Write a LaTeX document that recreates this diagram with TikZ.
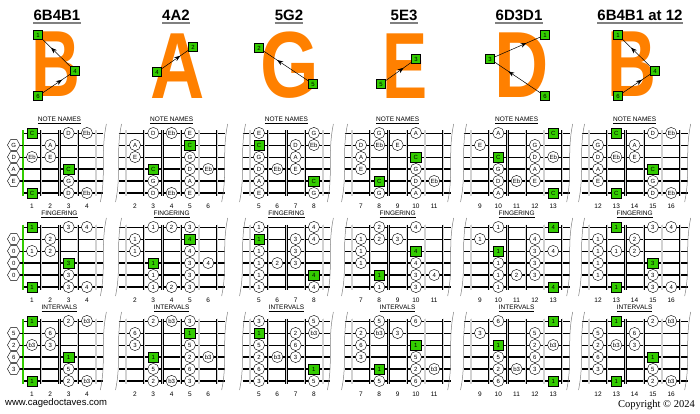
\documentclass[tikz,border=0pt]{standalone}
\usepackage{fontspec}
\setmainfont{Liberation Serif}
\setsansfont{Liberation Sans}
\usetikzlibrary{shapes.geometric,decorations.markings,arrows.meta}

\definecolor{rootgreen}{RGB}{51,204,0}
\definecolor{shapeorange}{RGB}{255,128,0}

\tikzset{
  ns0/.style={circle,draw,fill=white,inner sep=0pt,minimum size=11.2pt,font=\sffamily\fontsize{6}{6}\selectfont},
  ns1/.style={rectangle,draw,fill=rootgreen,inner sep=0pt,minimum size=10.5pt,font=\sffamily\fontsize{6}{6}\selectfont},
  ns2/.style={regular polygon,regular polygon sides=6,draw,fill=white,inner sep=0pt,minimum size=12.5pt,font=\sffamily\fontsize{6}{6}\selectfont},
  string1/.style={line width=0.6pt},
  string2/.style={line width=0.6pt},
  string3/.style={line width=0.7pt},
  string4/.style={line width=1.4pt},
  string5/.style={line width=1.4pt},
  string6/.style={line width=2.4pt},
  fretline/.style={line width=0.45pt,double=gray!35,double distance=1.3pt},
  nutline/.style={rootgreen,line width=2.2pt},
  breakline/.style={gray,line width=0.5pt},
  boardtitle/.style={font=\sffamily\fontsize{6.5}{6.5}\selectfont,inner sep=0pt},
  fretnum/.style={font=\sffamily\fontsize{6.5}{6.5}\selectfont,inner sep=0pt},
  coltitle/.style={font=\sffamily\bfseries\fontsize{15}{15}\selectfont,inner sep=0pt,
    append after command={([yshift=-2.5pt]\tikzlastnode.south west) edge[gray,line width=1.8pt] ([yshift=-2.5pt]\tikzlastnode.south east)}},
  bigletter/.style={font=\sffamily\bfseries\fontsize{94}{94}\selectfont,text=shapeorange,inner sep=0pt},
  strnum/.style={rectangle,draw,fill=rootgreen,inner sep=0pt,minimum size=9pt,font=\sffamily\fontsize{6}{6}\selectfont},
  midarrow/.style={line width=0.5pt,postaction={decorate},
    decoration={markings,mark=at position 0.7 with {\arrow{Stealth[length=6pt,width=4.5pt]}}}}
}

% #1 name, #2 x of fret 0, #3 first fret, #4 last fret, #5 notes string/fret/name/finger/interval/kind
\newcommand{\fretboard}[5]{%
  \foreach \yb/\ttl [count=\bd from 0] in {133/NOTE NAMES,227/FINGERING,321/INTERVALS}{
    \node[boardtitle] (#1t\bd) at ({#2+18.3*(#3+#4)/2},{\yb-13}) {\underline{\ttl}};
    \ifnum#3=1
      \foreach \r in {1,...,6}
        \draw[string\r] ({#2+9.15},{\yb+12*(\r-1)}) -- ({#2+18.3*(#4+0.9)},{\yb+12*(\r-1)});
      \draw[nutline] ({#2+9.15},{\yb-2.5}) -- ({#2+9.15},{\yb+62.5});
    \else
      \foreach \r in {1,...,6}
        \draw[string\r] ({#2+18.3*(#3-0.9)},{\yb+12*(\r-1)}) -- ({#2+18.3*(#4+0.9)},{\yb+12*(\r-1)});
      \draw[fretline] ({#2+18.3*(#3-0.5)},{\yb-2.5}) -- ({#2+18.3*(#3-0.5)},{\yb+62.5});
      \draw[breakline] ({#2+18.3*(#3-0.9)+3},{\yb-9}) .. controls ({#2+18.3*(#3-0.9)-3},{\yb+20}) and ({#2+18.3*(#3-0.9)+3},{\yb+40}) .. ({#2+18.3*(#3-0.9)-3},{\yb+69});
    \fi
    \foreach \f in {#3,...,#4}{
      \draw[fretline] ({#2+18.3*(\f+0.5)},{\yb-2.5}) -- ({#2+18.3*(\f+0.5)},{\yb+62.5});
      \node[fretnum] (#1n\bd-\f) at ({#2+18.3*\f},{\yb+73}) {\f};
    }
    \draw[breakline] ({#2+18.3*(#4+0.9)+3},{\yb-9}) .. controls ({#2+18.3*(#4+0.9)-3},{\yb+20}) and ({#2+18.3*(#4+0.9)+3},{\yb+40}) .. ({#2+18.3*(#4+0.9)-3},{\yb+69});
    \foreach \r/\f/\n/\g/\iv/\k in {#5}{
      \ifnum\k=2 \draw[string\r] ({#2},{\yb+12*(\r-1)}) -- ({#2+9.15},{\yb+12*(\r-1)}); \fi
      \node[ns\k] (#1\bd-\r-\f) at ({#2+18.3*\f},{\yb+12*(\r-1)}) {\ifcase\bd\relax\n\or\g\or\iv\fi};
    }
  }%
}

\begin{document}
\begin{tikzpicture}[x=1pt,y=-1pt]
  \useasboundingbox[fill=white] (0,0) rectangle (700,414);

  % column titles
  \foreach \x/\ttl [count=\c] in {57/6B4B1,176/4A2,289/5G2,404/5E3,519/6D3D1,640/6B4B1 at 12}
    \node[coltitle] (title\c) at (\x,15) {\ttl};

  % shape letters with root strings
  \node[bigletter] (letB) at (56,64) {\scalebox{0.72}[1]{B}};
  \node[bigletter] (letA) at (178,66) {\scalebox{0.8}[1]{A}};
  \node[bigletter] (letG) at (290,65) {\scalebox{0.8}[1]{G}};
  \node[bigletter] (letE) at (405,66) {\scalebox{0.72}[1]{E}};
  \node[bigletter] (letD) at (522,65) {\scalebox{0.8}[1]{D}};
  \node[bigletter] (letBB) at (632,64) {\scalebox{0.72}[1]{B}};

  \node[strnum] (a1) at (38,35) {1};
  \node[strnum] (a4) at (75,71) {4};
  \node[strnum] (a6) at (38,96) {6};
  \draw[midarrow] (a6) -- (a4);
  \draw[midarrow] (a4) -- (a1);

  \node[strnum] (b4) at (157,72) {4};
  \node[strnum] (b2) at (193,47) {2};
  \draw[midarrow] (b4) -- (b2);

  \node[strnum] (c5) at (313,84) {5};
  \node[strnum] (c2) at (259,48) {2};
  \draw[midarrow] (c5) -- (c2);

  \node[strnum] (d5) at (381,84) {5};
  \node[strnum] (d3) at (416,59) {3};
  \draw[midarrow] (d5) -- (d3);

  \node[strnum] (e6) at (545,96) {6};
  \node[strnum] (e3) at (490,59) {3};
  \node[strnum] (e1) at (545,35) {1};
  \draw[midarrow] (e6) -- (e3);
  \draw[midarrow] (e3) -- (e1);

  \node[strnum] (f1) at (618,35) {1};
  \node[strnum] (f4) at (655,71) {4};
  \node[strnum] (f6) at (618,96) {6};
  \draw[midarrow] (f6) -- (f4);
  \draw[midarrow] (f4) -- (f1);

  % fretboards
  \fretboard{a}{13.7}{1}{4}{1/1/C/1/1/1,1/3/D/3/2/0,1/4/Eb/4/b3/0,
    2/0/G/0/5/2,2/2/A/2/6/0,
    3/0/D/0/2/2,3/1/Eb/1/b3/0,3/2/E/2/3/0,
    4/0/A/0/6/2,4/3/C/3/1/1,
    5/0/E/0/3/2,5/3/G/3/5/0,
    6/1/C/1/1/1,6/3/D/3/2/0,6/4/Eb/4/b3/0}
  \fretboard{b}{98.4}{2}{6}{1/3/D/1/2/0,1/4/Eb/2/b3/0,1/5/E/3/3/0,
    2/2/A/1/6/0,2/5/C/4/1/1,
    3/2/E/1/3/0,3/5/G/4/5/0,
    4/3/C/1/1/1,4/5/D/3/2/0,4/6/Eb/4/b3/0,
    5/3/G/1/5/0,5/5/A/3/6/0,
    6/3/D/1/2/0,6/4/Eb/2/b3/0,6/5/E/3/3/0}
  \fretboard{c}{167.5}{5}{8}{1/5/E/1/3/0,1/8/G/4/5/0,
    2/5/C/1/1/1,2/7/D/3/2/0,2/8/Eb/4/b3/0,
    3/5/G/1/5/0,3/7/A/3/6/0,
    4/5/D/1/2/0,4/6/Eb/2/b3/0,4/7/E/3/3/0,
    5/5/A/1/6/0,5/8/C/4/1/1,
    6/5/E/1/3/0,6/8/G/4/5/0}
  \fretboard{d}{232.9}{7}{11}{1/8/G/2/5/0,1/10/A/4/6/0,
    2/7/D/1/2/0,2/8/Eb/2/b3/0,2/9/E/3/3/0,
    3/7/A/1/6/0,3/10/C/4/1/1,
    4/7/E/1/3/0,4/10/G/4/5/0,
    5/8/C/1/1/1,5/10/D/3/2/0,5/11/Eb/4/b3/0,
    6/8/G/1/5/0,6/10/A/3/6/0}
  \fretboard{e}{315.3}{9}{13}{1/10/A/1/6/0,1/13/C/4/1/1,
    2/9/E/1/3/0,2/12/G/4/5/0,
    3/10/C/1/1/1,3/12/D/3/2/0,3/13/Eb/4/b3/0,
    4/10/G/1/5/0,4/12/A/3/6/0,
    5/10/D/1/2/0,5/11/Eb/2/b3/0,5/12/E/3/3/0,
    6/10/A/1/6/0,6/13/C/4/1/1}
  \fretboard{f}{378.4}{12}{16}{1/13/C/1/1/1,1/15/D/3/2/0,1/16/Eb/4/b3/0,
    2/12/G/1/5/0,2/14/A/2/6/0,
    3/12/D/1/2/0,3/13/Eb/1/b3/0,3/14/E/2/3/0,
    4/12/A/1/6/0,4/15/C/3/1/1,
    5/12/E/1/3/0,5/15/G/3/5/0,
    6/13/C/1/1/1,6/15/D/3/2/0,6/16/Eb/4/b3/0}

  \node[font=\sffamily\fontsize{9.5}{9.5}\selectfont,anchor=west,inner sep=0pt] (site) at (5,403) {www.cagedoctaves.com};
  \node[font=\fontsize{10.5}{10.5}\selectfont,anchor=east,inner sep=0pt] (copy) at (695,405) {Copyright © 2024};
\end{tikzpicture}
\end{document}
